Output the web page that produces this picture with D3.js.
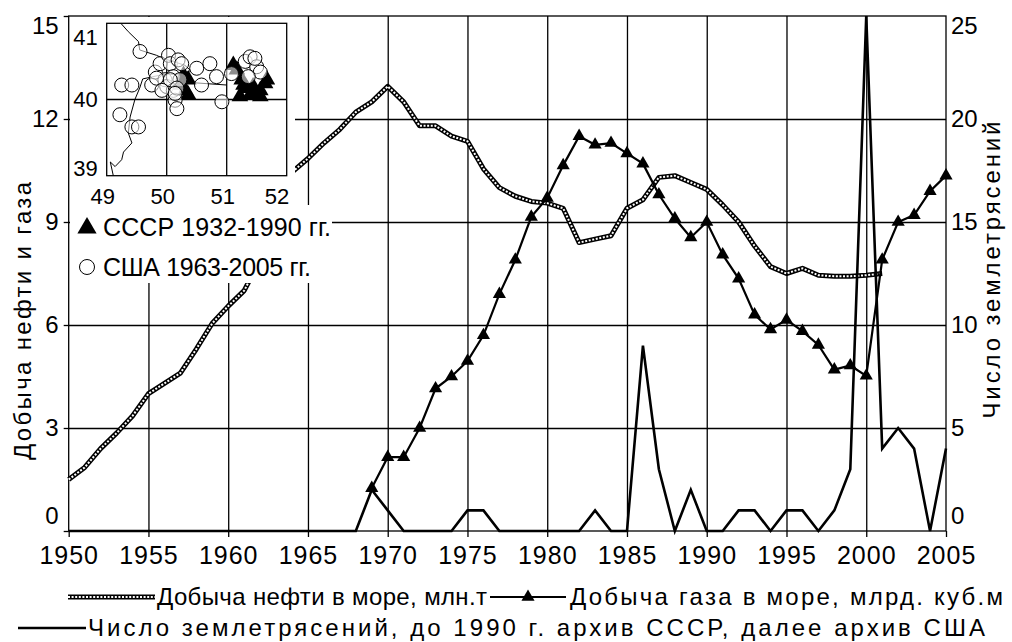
<!DOCTYPE html>
<html>
<head>
<meta charset="utf-8">
<script src="https://cdn.jsdelivr.net/npm/d3@7"></script>
<style>
body { margin: 0; background: #fff; }
text { font-family: "Liberation Sans", Arial, sans-serif; fill: #000; }
</style>
</head>
<body>
<svg id="chart" width="1012" height="642"></svg>
<script>
// offshore oil, mln t
var oilYears = [1950,1951,1952,1953,1954,1955,1956,1957,1958,1959,1960,1961,1962,1963,1964,1965,1966,1967,1968,1969,
    1970,1971,1972,1973,1974,1975,1976,1977,1978,1979,1980,1981,1982,1983,1984,1985,1986,1987,1988,1989,
    1990,1991,1992,1993,1994,1995,1996,1997,1998,1999,2000,2001];
var oilValues = [1.5,1.85,2.4,2.85,3.35,4.0,4.3,4.6,5.3,6.05,6.55,7.0,7.9,9.1,10.45,10.85,11.3,11.7,12.2,12.5,
    12.95,12.5,11.8,11.8,11.5,11.35,10.55,10.0,9.75,9.6,9.55,9.4,8.4,8.5,8.6,9.4,9.65,10.3,10.35,10.15,
    9.95,9.5,9.0,8.3,7.7,7.5,7.65,7.45,7.42,7.42,7.45,7.5];

// offshore gas, bln m3
var gasYears = [1969,1970,1971,1972,1973,1974,1975,1976,1977,1978,1979,1980,1981,1982,1983,1984,1985,1986,1987,
    1988,1989,1990,1991,1992,1993,1994,1995,1996,1997,1998,1999,2000,2001,2002,2003,2004,2005];
var gasValues = [1.25,2.15,2.15,3.0,4.15,4.5,4.95,5.7,6.9,7.9,9.15,9.7,10.65,11.5,11.25,11.3,11.0,10.7,9.8,
    9.1,8.55,9.0,8.05,7.35,6.3,5.87,6.15,5.82,5.42,4.7,4.82,4.52,7.9,9.0,9.2,9.9,10.35];

// number of earthquakes (right axis)
var quakeYears = [1950,1951,1952,1953,1954,1955,1956,1957,1958,1959,1960,1961,1962,1963,1964,1965,1966,1967,1968,1969,
    1970,1971,1972,1973,1974,1975,1976,1977,1978,1979,1980,1981,1982,1983,1984,1985,1986,1987,1988,1989,
    1990,1991,1992,1993,1994,1995,1996,1997,1998,1999,2000,2001,2002,2003,2004,2005];
var quakeValues = [0,0,0,0,0,0,0,0,0,0,0,0,0,0,0,0,0,0,0,2,
    1,0,0,0,0,1,1,0,0,0,0,0,0,1,0,0,9,3,0,2,
    0,0,1,1,0,1,1,0,1,3,25,4,5,4,0,4];

var xTicks = [1950,1955,1960,1965,1970,1975,1980,1985,1990,1995,2000,2005];
var leftTicks = [0,3,6,9,12,15];
var rightTicks = [0,5,10,15,20,25];

// inset map: epicentres (lon, lat)
var usaQuakes = [[49.555,40.63],[49.25,40.19],[49.42,40.19],[49.22,39.80],[49.42,39.64],[49.53,39.64],[49.75,40.19],
    [49.81,40.36],[49.89,40.47],[50.03,40.58],[50.06,40.47],[49.97,40.26],[50.0,40.17],[50.11,40.12],[50.14,39.99],
    [50.17,39.88],[50.19,40.52],[50.25,40.47],[50.11,40.30],[50.22,40.26],[50.06,40.26],[50.5,40.41],[50.58,40.19],
    [50.72,40.47],[50.83,40.30],[50.92,39.97],[51.08,40.34],[51.31,40.50],[51.39,40.56],[51.5,40.43],[51.56,40.36],
    [51.36,40.30],[51.47,40.54],[50.17,40.15],[50.14,40.08],[49.83,40.28],[49.92,40.12]];
var ussrQuakes = [[50.28,40.32],[50.36,40.26],[50.36,40.06],[50.31,40.12],[50.22,40.19],[51.11,40.45],[51.17,40.39],
    [51.28,40.19],[51.39,40.06],[51.5,40.06],[51.64,40.21],[51.67,40.26],[51.44,40.17],[51.56,40.12],[51.25,40.26],
    [51.33,40.15],[51.56,40.04],[51.22,40.04]];
var coastLine = [[49.19,41.04],[49.36,40.89],[49.53,40.76],[49.55,40.65],[49.83,40.58],[49.94,40.54],[50.1,40.5],
    [50.3,40.45],[50.4,40.38],[50.25,40.33],[49.95,40.33],[49.6,40.27],[49.55,40.15],[49.47,40.0],[49.39,39.77],
    [49.36,39.56],[49.42,39.43],[49.28,39.31],[49.25,39.21],[49.14,39.12],[49.06,39.18],[49.11,39.0]];
var pipeLine = [[50.45,40.22],[51.0,40.19]];
var insetLonTicks = [49,50,51,52];
var insetLatTicks = [39,40,41];

var svg = d3.select('#chart');
var plotLeft = 68.7, plotRight = 946, plotTop = 16, plotBottom = 531;

var x = d3.scaleLinear().domain([1950, 2005]).range([plotLeft, plotRight]);
var yL = d3.scaleLinear().domain([0, 15]).range([plotBottom, plotTop]);
var yR = d3.scaleLinear().domain([0, 25]).range([plotBottom, plotTop]);

function clampY(v) { return Math.max(plotTop + 10, Math.min(plotBottom - 15, v)); }

// grid
var gx = svg.append('g')
    .attr('transform', 'translate(0,' + plotBottom + ')')
    .call(d3.axisBottom(x).tickValues(xTicks.slice(1, -1)).tickSize(-(plotBottom - plotTop)).tickFormat(''));
var gy = svg.append('g')
    .attr('transform', 'translate(' + plotLeft + ',0)')
    .call(d3.axisLeft(yL).tickValues([3, 6, 9, 12]).tickSize(-(plotRight - plotLeft)).tickFormat(''));
[gx, gy].forEach(function(g) {
    g.select('.domain').remove();
    g.selectAll('line').attr('stroke', '#000').attr('stroke-width', 1.3);
});

// frame
svg.append('rect')
    .attr('x', plotLeft).attr('y', plotTop)
    .attr('width', plotRight - plotLeft).attr('height', plotBottom - plotTop)
    .attr('fill', 'none').attr('stroke', '#000').attr('stroke-width', 1.3);

// axes
var ax = svg.append('g')
    .attr('transform', 'translate(0,' + plotBottom + ')')
    .call(d3.axisBottom(x).tickValues(xTicks).tickSize(6).tickPadding(9).tickFormat(d3.format('d')));
var al = svg.append('g')
    .attr('transform', 'translate(' + plotLeft + ',0)')
    .call(d3.axisLeft(yL).tickValues(leftTicks).tickSize(5).tickPadding(5));
var ar = svg.append('g')
    .attr('transform', 'translate(' + plotRight + ',0)')
    .call(d3.axisRight(yR).tickValues(rightTicks).tickSize(0).tickPadding(5));
[ax, al, ar].forEach(function(g) {
    g.select('.domain').remove();
    g.selectAll('line').attr('stroke', '#000').attr('stroke-width', 1.3);
    g.selectAll('text').style('font-size', '24px').attr('fill', '#000');
});
ax.selectAll('text').style('font-size', '25px').style('letter-spacing', '1px');
al.selectAll('text').attr('y', function(d) { return clampY(yL(d)) - yL(d); });
ar.selectAll('text').attr('y', function(d) { return clampY(yR(d)) - yR(d); });

// series
var oilData = oilYears.map(function(yr, i) { return [yr, oilValues[i]]; });
var gasData = gasYears.map(function(yr, i) { return [yr, gasValues[i]]; });
var quakeData = quakeYears.map(function(yr, i) { return [yr, quakeValues[i]]; });

var lineL = d3.line().x(function(d) { return x(d[0]); }).y(function(d) { return yL(d[1]); });
var lineR = d3.line().x(function(d) { return x(d[0]); }).y(function(d) { return yR(d[1]); });

function oilStyle(sel, d) {
    sel.append('path').attr('d', d).attr('fill', 'none')
        .attr('stroke', '#000').attr('stroke-width', 5).attr('stroke-linejoin', 'round');
    sel.append('path').attr('d', d).attr('fill', 'none')
        .attr('stroke', '#fff').attr('stroke-width', 2).attr('stroke-dasharray', '2 1.6');
}
oilStyle(svg.append('g'), lineL(oilData));

svg.append('path').attr('d', lineL(gasData))
    .attr('fill', 'none').attr('stroke', '#000').attr('stroke-width', 2.2);
var tri = d3.symbol().type(d3.symbolTriangle).size(75);
svg.append('g').selectAll('path')
    .data(gasData).enter().append('path')
    .attr('d', tri)
    .attr('transform', function(d) { return 'translate(' + x(d[0]) + ',' + yL(d[1]) + ')'; })
    .attr('fill', '#000');

svg.append('path').attr('d', lineR(quakeData))
    .attr('fill', 'none').attr('stroke', '#000').attr('stroke-width', 2.6).attr('stroke-linejoin', 'miter');

// axis titles
svg.append('text')
    .attr('transform', 'translate(31,321) rotate(-90)')
    .attr('text-anchor', 'middle')
    .attr('textLength', 278).attr('lengthAdjust', 'spacing')
    .style('font-size', '24px')
    .text('Добыча нефти и газа');
svg.append('text')
    .attr('transform', 'translate(1000,270) rotate(-90)')
    .attr('text-anchor', 'middle')
    .attr('textLength', 297).attr('lengthAdjust', 'spacing')
    .style('font-size', '24px')
    .text('Число землетрясений');

// inset map
svg.append('rect').attr('x', 70).attr('y', 17).attr('width', 225).attr('height', 196).attr('fill', '#fff');
svg.append('rect').attr('x', 70).attr('y', 205).attr('width', 262).attr('height', 78).attr('fill', '#fff');

var ix = d3.scaleLinear().domain([49, 52]).range([106.7, 286.7]);
var iy = d3.scaleLinear().domain([39, 41]).range([175.7, 23.3]);

svg.append('clipPath').attr('id', 'insetClip').append('rect')
    .attr('x', ix(49)).attr('y', iy(41)).attr('width', ix(52) - ix(49)).attr('height', iy(39) - iy(41));

var inset = svg.append('g');
inset.selectAll('line.v').data([50, 51]).enter().append('line')
    .attr('x1', ix).attr('x2', ix).attr('y1', iy(41)).attr('y2', iy(39))
    .attr('stroke', '#000').attr('stroke-width', 1.3);
inset.append('line')
    .attr('x1', ix(49)).attr('x2', ix(52)).attr('y1', iy(40)).attr('y2', iy(40))
    .attr('stroke', '#000').attr('stroke-width', 1.3);

var mapLine = d3.line().x(function(d) { return ix(d[0]); }).y(function(d) { return iy(d[1]); });
var mapG = inset.append('g').attr('clip-path', 'url(#insetClip)');
mapG.append('path').attr('d', mapLine(coastLine)).attr('fill', 'none').attr('stroke', '#000').attr('stroke-width', 1);
mapG.append('path').attr('d', mapLine(pipeLine)).attr('fill', 'none').attr('stroke', '#000').attr('stroke-width', 1);

var triMap = d3.symbol().type(d3.symbolTriangle).size(120);
mapG.selectAll('path.ussr').data(ussrQuakes).enter().append('path')
    .attr('class', 'ussr')
    .attr('d', triMap)
    .attr('transform', function(d) { return 'translate(' + ix(d[0]) + ',' + iy(d[1]) + ')'; })
    .attr('fill', '#000');
mapG.selectAll('circle').data(usaQuakes).enter().append('circle')
    .attr('cx', function(d) { return ix(d[0]); })
    .attr('cy', function(d) { return iy(d[1]); })
    .attr('r', 7)
    .attr('fill', '#fff').attr('fill-opacity', 0.55)
    .attr('stroke', '#000').attr('stroke-width', 1);

inset.append('rect')
    .attr('x', ix(49)).attr('y', iy(41)).attr('width', ix(52) - ix(49)).attr('height', iy(39) - iy(41))
    .attr('fill', 'none').attr('stroke', '#000').attr('stroke-width', 1.3);

inset.selectAll('text.lat').data(insetLatTicks).enter().append('text')
    .attr('class', 'lat')
    .attr('x', ix(49) - 9)
    .attr('y', function(d) { return Math.max(iy(41) + 14, Math.min(iy(39) - 7, iy(d))); })
    .attr('dy', '0.35em')
    .attr('text-anchor', 'end')
    .style('font-size', '22px')
    .text(function(d) { return d; });
inset.selectAll('text.lon').data(insetLonTicks).enter().append('text')
    .attr('class', 'lon')
    .attr('x', function(d) { return Math.min(ix(d) - 4, 277); })
    .attr('y', 204)
    .attr('text-anchor', 'middle')
    .style('font-size', '22px')
    .text(function(d) { return d; });

// inset legend
inset.append('path').attr('d', d3.symbol().type(d3.symbolTriangle).size(160))
    .attr('transform', 'translate(87,228)').attr('fill', '#000');
inset.append('text').attr('x', 103).attr('y', 236).style('font-size', '25px')
    .attr('textLength', 228).attr('lengthAdjust', 'spacing').text('СССР 1932-1990 гг.');
inset.append('circle').attr('cx', 87).attr('cy', 267).attr('r', 7.5)
    .attr('fill', '#fff').attr('stroke', '#000').attr('stroke-width', 1);
inset.append('text').attr('x', 103).attr('y', 276).style('font-size', '25px')
    .attr('textLength', 208).attr('lengthAdjust', 'spacing').text('США 1963-2005 гг.');

// bottom legend
var leg = svg.append('g');
oilStyle(leg, 'M68,597H155');
leg.append('text').attr('x', 157).attr('y', 605).style('font-size', '24px')
    .attr('textLength', 330).attr('lengthAdjust', 'spacing').text('Добыча нефти в море, млн.т');
leg.append('path').attr('d', 'M490,597H566').attr('stroke', '#000').attr('stroke-width', 2.2);
leg.append('path').attr('d', tri).attr('transform', 'translate(528,597)').attr('fill', '#000');
leg.append('text').attr('x', 570).attr('y', 605).style('font-size', '24px')
    .attr('textLength', 433).attr('lengthAdjust', 'spacing').text('Добыча газа в море, млрд. куб.м');
leg.append('path').attr('d', 'M18,628H86').attr('stroke', '#000').attr('stroke-width', 2.6);
leg.append('text').attr('x', 88).attr('y', 636).style('font-size', '24px')
    .attr('textLength', 897).attr('lengthAdjust', 'spacing')
    .text('Число землетрясений, до 1990 г. архив СССР, далее архив США');
</script>
</body>
</html>
